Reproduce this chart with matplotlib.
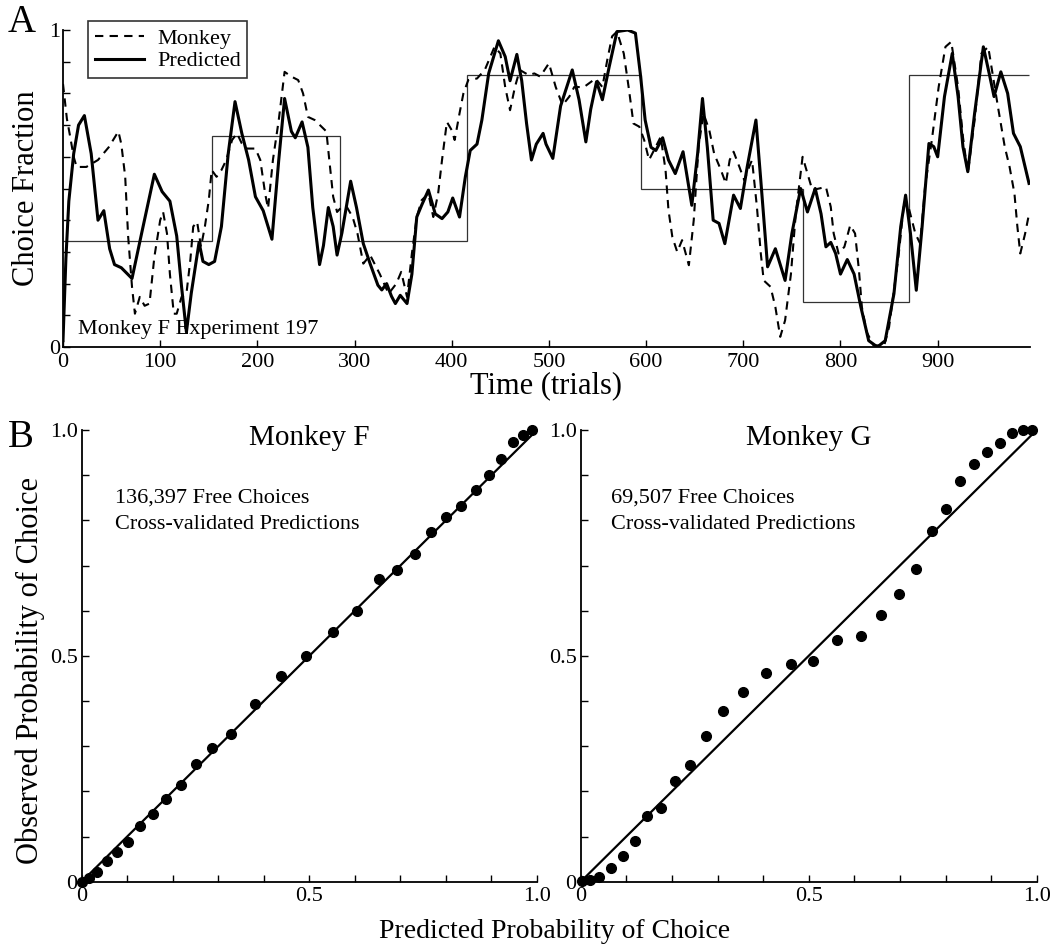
import matplotlib
matplotlib.use("Agg")
import matplotlib.pyplot as plt
import numpy as np

plt.rcParams['font.family'] = ['Liberation Serif', 'DejaVu Serif']
plt.rcParams['font.size'] = 16

# ---- panel A: one session, choice fraction over trials ----
pred_t = [0, 3, 6, 11, 16, 22, 29, 36, 42, 48, 53, 60, 71, 81, 94, 102, 110, 117, 122, 127,
          132, 140, 144, 150, 156, 163, 170, 177, 184, 191, 198, 206, 215, 222, 228, 235, 239,
          246, 252, 257, 264, 268, 273, 278, 282, 287, 296, 302, 309, 316, 324, 328, 333, 338,
          342, 347, 354, 359, 364, 369, 376, 383, 390, 396, 401, 408, 414, 419, 426, 431, 438,
          448, 455, 460, 467, 472, 477, 482, 487, 494, 497, 504, 512, 524, 531, 538, 543, 549,
          555, 562, 570, 581, 589, 594, 599, 605, 610, 617, 623, 630, 638, 647, 653, 658, 663,
          669, 675, 681, 690, 697, 704, 713, 718, 725, 733, 743, 750, 759, 766, 774, 780, 785,
          790, 795, 800, 807, 814, 821, 829, 838, 846, 855, 862, 867, 872, 878, 884, 891, 896,
          900, 907, 915, 921, 926, 931, 938, 947, 953, 958, 965, 972, 978, 985, 990, 994]
pred_v = [0.02, 0.28, 0.46, 0.61, 0.70, 0.73, 0.61, 0.40, 0.43, 0.31, 0.26, 0.25, 0.216, 0.36,
          0.545, 0.49, 0.46, 0.35, 0.19, 0.047, 0.17, 0.33, 0.27, 0.26, 0.27, 0.38, 0.61, 0.774,
          0.674, 0.59, 0.474, 0.43, 0.34, 0.59, 0.784, 0.68, 0.66, 0.71, 0.63, 0.44, 0.26, 0.32,
          0.44, 0.38, 0.29, 0.36, 0.523, 0.44, 0.326, 0.263, 0.195, 0.18, 0.2, 0.16, 0.137,
          0.163, 0.137, 0.23, 0.41, 0.447, 0.495, 0.42, 0.405, 0.426, 0.47, 0.41, 0.537, 0.62,
          0.64, 0.716, 0.863, 0.966, 0.916, 0.84, 0.923, 0.84, 0.705, 0.59, 0.64, 0.674, 0.64,
          0.595, 0.76, 0.874, 0.78, 0.647, 0.75, 0.837, 0.78, 0.884, 0.995, 1.0, 0.99, 0.863,
          0.716, 0.63, 0.62, 0.66, 0.59, 0.547, 0.616, 0.447, 0.61, 0.784, 0.63, 0.40, 0.39,
          0.326, 0.479, 0.437, 0.568, 0.716, 0.526, 0.253, 0.31, 0.21, 0.358, 0.5, 0.426, 0.5,
          0.42, 0.316, 0.33, 0.295, 0.23, 0.276, 0.23, 0.126, 0.02, 0.0, 0.02, 0.168, 0.38,
          0.479, 0.358, 0.179, 0.38, 0.642, 0.632, 0.6, 0.79, 0.926, 0.79, 0.632, 0.553, 0.737,
          0.947, 0.863, 0.79, 0.868, 0.8, 0.674, 0.632, 0.568, 0.516]

monkey_t = [0, 4, 7, 11, 14, 24, 36, 47, 57, 60, 64, 67, 71, 74, 79, 84, 89, 94, 100, 103,
            107, 110, 114, 117, 122, 127, 131, 134, 138, 142, 146, 150, 153, 158, 163, 168,
            174, 179, 184, 189, 198, 203, 208, 211, 216, 222, 228, 235, 242, 247, 252, 259,
            266, 271, 274, 278, 282, 287, 292, 298, 303, 309, 316, 326, 335, 343, 348, 354,
            359, 364, 369, 376, 381, 386, 390, 395, 400, 403, 408, 412, 417, 426, 434, 444,
            450, 455, 460, 465, 470, 479, 485, 491, 500, 507, 514, 521, 526, 536, 548, 555,
            560, 565, 570, 577, 582, 587, 593, 598, 603, 610, 615, 620, 623, 627, 632, 637,
            644, 649, 654, 659, 665, 670, 677, 682, 686, 690, 696, 701, 706, 709, 714, 718,
            721, 728, 733, 738, 743, 749, 754, 761, 766, 771, 778, 785, 790, 793, 798, 804,
            810, 815, 819, 822, 827, 834, 845, 850, 855, 860, 865, 870, 877, 882, 887, 894,
            901, 908, 914, 921, 926, 931, 938, 945, 952, 957, 962, 969, 974, 979, 982, 985,
            990, 994]
monkey_v = [0.83, 0.72, 0.67, 0.60, 0.568, 0.568, 0.59, 0.63, 0.68, 0.64, 0.537, 0.35, 0.19,
            0.105, 0.158, 0.13, 0.137, 0.284, 0.40, 0.426, 0.358, 0.23, 0.105, 0.105, 0.158,
            0.168, 0.274, 0.38, 0.395, 0.316, 0.38, 0.463, 0.558, 0.537, 0.558, 0.59, 0.653,
            0.674, 0.642, 0.626, 0.626, 0.59, 0.484, 0.437, 0.59, 0.716, 0.868, 0.853, 0.842,
            0.8, 0.726, 0.716, 0.695, 0.68, 0.59, 0.474, 0.426, 0.442, 0.442, 0.41, 0.358,
            0.263, 0.29, 0.23, 0.168, 0.2, 0.237, 0.158, 0.295, 0.41, 0.463, 0.484, 0.41,
            0.484, 0.59, 0.71, 0.684, 0.653, 0.737, 0.8, 0.842, 0.847, 0.874, 0.947, 0.926,
            0.82, 0.747, 0.82, 0.874, 0.858, 0.863, 0.853, 0.895, 0.82, 0.763, 0.79, 0.82,
            0.82, 0.847, 0.82, 0.905, 0.98, 0.995, 0.926, 0.82, 0.705, 0.695, 0.653, 0.59,
            0.632, 0.663, 0.558, 0.432, 0.347, 0.3, 0.337, 0.258, 0.4, 0.632, 0.737, 0.684,
            0.61, 0.558, 0.516, 0.59, 0.616, 0.568, 0.526, 0.568, 0.59, 0.442, 0.295, 0.21,
            0.19, 0.126, 0.032, 0.084, 0.23, 0.42, 0.6, 0.547, 0.495, 0.5, 0.505, 0.442, 0.358,
            0.295, 0.316, 0.384, 0.358, 0.242, 0.126, 0.047, 0.005, 0.005, 0.063, 0.179, 0.295,
            0.442, 0.442, 0.358, 0.326, 0.505, 0.653, 0.82, 0.947, 0.963, 0.82, 0.663, 0.547,
            0.716, 0.926, 0.947, 0.853, 0.758, 0.632, 0.568, 0.484, 0.38, 0.295, 0.358, 0.42]

# block reward ratios (step line)
block_edges = [0, 153, 285, 416, 595, 761, 870, 994]
block_frac = [0.333, 0.667, 0.333, 0.857, 0.5, 0.143, 0.857]

# ---- panel B: calibration points ----
f_pred = [0.0, 0.017, 0.034, 0.055, 0.078, 0.102, 0.128, 0.157, 0.185, 0.218, 0.251, 0.287,
          0.329, 0.38, 0.437, 0.492, 0.552, 0.604, 0.653, 0.693, 0.733, 0.768, 0.801, 0.834,
          0.865, 0.895, 0.922, 0.947, 0.969, 0.99]
f_obs = [0.0, 0.009, 0.022, 0.045, 0.065, 0.088, 0.124, 0.149, 0.182, 0.215, 0.26, 0.297,
         0.327, 0.394, 0.455, 0.5, 0.552, 0.6, 0.671, 0.689, 0.726, 0.774, 0.808, 0.832,
         0.868, 0.901, 0.936, 0.973, 0.99, 1.0]
g_pred = [0.002, 0.02, 0.041, 0.067, 0.092, 0.119, 0.146, 0.176, 0.207, 0.24, 0.274, 0.313,
          0.357, 0.406, 0.461, 0.51, 0.563, 0.614, 0.658, 0.698, 0.735, 0.77, 0.801, 0.832,
          0.863, 0.89, 0.919, 0.946, 0.971, 0.989]
g_obs = [0.001, 0.004, 0.011, 0.03, 0.056, 0.091, 0.145, 0.163, 0.223, 0.259, 0.323, 0.379,
         0.421, 0.461, 0.481, 0.489, 0.535, 0.544, 0.591, 0.637, 0.693, 0.776, 0.826, 0.886,
         0.925, 0.952, 0.971, 0.994, 1.0, 1.0]

fig = plt.figure(figsize=(10.55, 9.52), dpi=100)


def style(ax):
    for s in ['top', 'right']:
        ax.spines[s].set_visible(False)
    for s in ['left', 'bottom']:
        ax.spines[s].set_linewidth(1.3)
    ax.tick_params(direction='in', length=5, width=1, pad=4, labelsize=16)


# panel A
axA = fig.add_axes([63/1055, 1-347/952, 967/1055, 317/952])
style(axA)
axA.stairs(block_frac, block_edges, color='#333333', lw=0.9, baseline=None)
axA.plot(monkey_t, monkey_v, color='black', lw=1.5, ls=(0, (4, 3)), label='Monkey',
         solid_joinstyle='round', dash_joinstyle='round')
axA.plot(pred_t, pred_v, color='black', lw=2.2, label='Predicted', solid_joinstyle='round')
axA.set_xlim(0, 995)
axA.set_ylim(0, 1)
axA.set_xticks(range(0, 1000, 100))
axA.set_yticks(np.arange(0, 1.01, 0.1))
axA.set_yticklabels(['0'] + [''] * 9 + ['1'])
axA.tick_params(axis='y', pad=2)
axA.set_xlabel('Time (trials)', fontsize=22, labelpad=0)
axA.set_ylabel('Choice Fraction', fontsize=22, labelpad=6)
leg = axA.legend(loc='upper left', bbox_to_anchor=(0.026, 1.027), borderaxespad=0,
                 frameon=True, fancybox=False, fontsize=16, handlelength=2.2,
                 borderpad=0.3, labelspacing=0.1, handletextpad=0.6)
leg.get_frame().set_edgecolor('black')
leg.get_frame().set_linewidth(1.2)
axA.text(0.015, 0.025, 'Monkey F Experiment 197', transform=axA.transAxes, fontsize=16,
         va='bottom', ha='left')
fig.text(8/1055, 1-22/952, 'A', fontsize=28, va='center', ha='left')

# panel B
axF = fig.add_axes([81.7/1055, 1-881.7/952, 455.3/1055, 451.7/952])
axG = fig.add_axes([580.7/1055, 1-881.7/952, 456/1055, 451.7/952])
panels = [(axF, f_pred, f_obs, 'Monkey F', '136,397 Free Choices', 0.073),
          (axG, g_pred, g_obs, 'Monkey G', '69,507 Free Choices', 0.066)]
for ax, xp, yo, title, count, tx in panels:
    style(ax)
    ax.plot([0, 1], [0, 1], color='black', lw=1.6)
    ax.plot(xp, yo, 'o', color='black', ms=7, clip_on=False)
    ax.set_xlim(0, 1)
    ax.set_ylim(0, 1)
    ticks = np.arange(0, 1.01, 0.1)
    labels = ['0', '', '', '', '', '0.5', '', '', '', '', '1.0']
    ax.set_xticks(ticks)
    ax.set_xticklabels(labels)
    ax.set_yticks(ticks)
    ax.set_yticklabels(labels)
    ax.tick_params(axis='y', pad=3)
    ax.text(0.5, 0.982, title, transform=ax.transAxes, fontsize=21, ha='center', va='center')
    ax.text(tx, 0.849, count, transform=ax.transAxes, fontsize=16, ha='left', va='center')
    ax.text(tx, 0.79, 'Cross-validated Predictions', transform=ax.transAxes, fontsize=16,
            ha='left', va='center')

fig.text(8/1055, 1-438/952, 'B', fontsize=28, va='center', ha='left')
fig.text(555/1055, 1-932/952, 'Predicted Probability of Choice', fontsize=20,
         ha='center', va='center')
fig.text(30/1055, 1-670/952, 'Observed Probability of Choice', fontsize=22,
         ha='center', va='center', rotation=90)

fig.savefig('out.png', dpi=100)
